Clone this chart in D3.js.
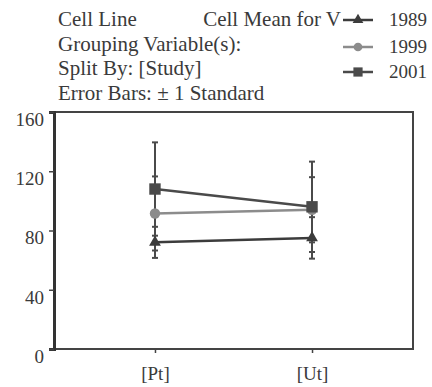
<!DOCTYPE html>
<html>
<head>
<meta charset="utf-8">
<script src="https://cdn.jsdelivr.net/npm/d3@7"></script>
<style>
  body { margin: 0; background: #fff; }
  svg text { font-family: "Liberation Serif", "Times New Roman", "DejaVu Serif", serif; fill: #3a3a3a; }
</style>
</head>
<body>
<div id="chart"></div>
<script>
// categories and series
const categories = ['[Pt]', '[Ut]'];
const years = ['1989', '1999', '2001'];
const mean1989 = [72, 75];
const sd1989 = [10.5, 14];
const mean1999 = [91.5, 94];
const sd1999 = [25, 22];
const mean2001 = [108, 96];
const sd2001 = [31.5, 30.5];
const yTicks = [0, 40, 80, 120, 160];
const headerLines = ['Cell Line', 'Grouping Variable(s):', 'Split By: [Study]', 'Error Bars: \u00b1 1 Standard'];

const serif = '"Liberation Serif", "Times New Roman", "DejaVu Serif", serif';

let svgWidth = 432;
let svgHeight = 387;
let margin = { top: 112, right: 19, bottom: 38, left: 54 };
let width = svgWidth - margin.left - margin.right;
let height = svgHeight - margin.top - margin.bottom;

let svg = d3.select('#chart').append('svg')
  .attr('width', svgWidth)
  .attr('height', svgHeight);

let chartGroup = svg.append('g')
  .attr('transform', `translate(${margin.left}, ${margin.top})`);

// scales
let xScale = d3.scalePoint()
  .domain(categories)
  .range([0, width])
  .padding(0.643);

let yScale = d3.scaleLinear()
  .domain([0, 160])
  .range([height, 0]);

// series setup
let series = [
  { name: years[0], mean: mean1989, sd: sd1989, color: '#3c3c3c', shape: d3.symbolTriangle, size: 60, lsize: 50 },
  { name: years[1], mean: mean1999, sd: sd1999, color: '#8c8c8c', shape: d3.symbolCircle, size: 85, lsize: 60 },
  { name: years[2], mean: mean2001, sd: sd2001, color: '#4a4a4a', shape: d3.symbolSquare, size: 130, lsize: 85 }
];

// frame
chartGroup.append('rect')
  .attr('x', 0).attr('y', 0)
  .attr('width', width).attr('height', height)
  .attr('fill', 'none')
  .attr('stroke', '#444')
  .attr('stroke-width', 2);

// y axis
let leftAxis = d3.axisLeft(yScale).tickValues(yTicks).tickSize(5).tickPadding(5);
let yAxis = chartGroup.append('g').call(leftAxis);
yAxis.select('.domain').attr('stroke', '#333').attr('stroke-width', 3);
yAxis.selectAll('line').attr('stroke', '#444').attr('stroke-width', 1.5);
yAxis.selectAll('text')
  .style('font-family', serif)
  .style('font-size', '19px')
  .attr('dy', '0.7em')
  .attr('fill', '#444');

// x axis
let bottomAxis = d3.axisBottom(xScale).tickSize(4);
let xAxis = chartGroup.append('g')
  .attr('transform', `translate(0, ${height})`)
  .call(bottomAxis);
xAxis.select('.domain').remove();
xAxis.selectAll('line').attr('stroke', '#444').attr('stroke-width', 1.5);
xAxis.selectAll('text')
  .style('font-family', serif)
  .style('font-size', '19px')
  .attr('y', 31)
  .attr('dy', 0)
  .attr('fill', '#444');

// error bars
series.forEach(function(s) {
  let g = chartGroup.append('g');
  categories.forEach(function(c, i) {
    let x = xScale(c);
    let lo = yScale(s.mean[i] - s.sd[i]);
    let hi = yScale(s.mean[i] + s.sd[i]);
    g.append('line')
      .attr('x1', x).attr('x2', x)
      .attr('y1', lo).attr('y2', hi)
      .attr('stroke', '#4a4a4a').attr('stroke-width', 2);
    [lo, hi].forEach(function(yy) {
      g.append('line')
        .attr('x1', x - 3).attr('x2', x + 3)
        .attr('y1', yy).attr('y2', yy)
        .attr('stroke', '#4a4a4a').attr('stroke-width', 2);
    });
  });
});

// lines and markers
let line = d3.line()
  .x((d, i) => xScale(categories[i]))
  .y(d => yScale(d));

series.forEach(function(s) {
  chartGroup.append('path')
    .datum(s.mean)
    .attr('d', line)
    .attr('fill', 'none')
    .attr('stroke', s.color)
    .attr('stroke-width', 2.5);

  chartGroup.selectAll(null)
    .data(s.mean)
    .enter()
    .append('path')
    .attr('d', d3.symbol().type(s.shape).size(s.size))
    .attr('transform', (d, i) => `translate(${xScale(categories[i])}, ${yScale(d)})`)
    .attr('fill', s.color);
});

// header text
svg.selectAll('.hdr')
  .data(headerLines)
  .enter()
  .append('text')
  .attr('class', 'hdr')
  .attr('x', 58)
  .attr('y', (d, i) => 26 + i * 24.5)
  .style('font-family', serif)
  .style('font-size', '21px')
  .text(d => d);

svg.append('text')
  .attr('x', 341)
  .attr('y', 26)
  .attr('text-anchor', 'end')
  .style('font-family', serif)
  .style('font-size', '21px')
  .text('Cell Mean for V');

// legend
let legendY = [20, 47, 72];
series.forEach(function(s, i) {
  let lg = svg.append('g').attr('transform', `translate(358, ${legendY[i]})`);
  lg.append('line')
    .attr('x1', -15).attr('x2', 15)
    .attr('y1', 0).attr('y2', 0)
    .attr('stroke', s.color).attr('stroke-width', 2.5);
  lg.append('path')
    .attr('d', d3.symbol().type(s.shape).size(s.lsize))
    .attr('fill', s.color);
  lg.append('text')
    .attr('x', 31)
    .attr('y', 6)
    .style('font-family', serif)
    .style('font-size', '19px')
    .text(s.name);
});
</script>
</body>
</html>
